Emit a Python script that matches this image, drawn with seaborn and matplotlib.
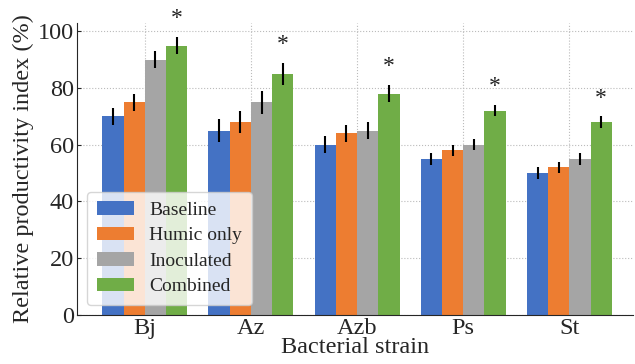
import numpy as np
import pandas as pd
import matplotlib
matplotlib.use("Agg")
import matplotlib.pyplot as plt
import seaborn as sns

strains = ["Bj", "Az", "Azb", "Ps", "St"]
treatments = ["Baseline", "Humic only", "Inoculated", "Combined"]
baseline = [70, 65, 60, 55, 50]
humic = [75, 68, 64, 58, 52]
inoculated = [90, 75, 65, 60, 55]
combined = [95, 85, 78, 72, 68]
err_baseline = [3, 4, 3, 2, 2]
err_humic = [3, 4, 3, 2, 2]
err_inoculated = [3, 4, 3, 2, 2]
err_combined = [3, 4, 3, 2, 2]
colors = ["#4472C4", "#ED7D31", "#A5A5A5", "#70AD47"]

vals = [baseline, humic, inoculated, combined]
errs = [err_baseline, err_humic, err_inoculated, err_combined]
rows = []
for t, v in zip(treatments, vals):
    for s, x in zip(strains, v):
        rows.append({"strain": s, "treatment": t, "value": x})
df = pd.DataFrame(rows)

sns.set_style("ticks")
plt.rcParams["font.family"] = ["Liberation Serif", "DejaVu Serif"]

fig = plt.figure(figsize=(6.35, 3.64), dpi=100)
ax = fig.add_axes([0.121, 0.135, 0.876, 0.802])

sns.barplot(data=df, x="strain", y="value", hue="treatment", palette=colors,
            width=0.8, errorbar=None, saturation=1, linewidth=0, ax=ax, zorder=2)

# error bars from the bar patches
for cont, e in zip(ax.containers, errs):
    xs = [p.get_x() + p.get_width() / 2 for p in cont.patches]
    hs = [p.get_height() for p in cont.patches]
    ax.errorbar(xs, hs, yerr=e, fmt="none", ecolor="black", elinewidth=1.5,
                capsize=0, zorder=3)

# stars above the combined bars
comb = ax.containers[3]
for p, e in zip(comb.patches, err_combined):
    ax.text(p.get_x() + p.get_width() / 2, p.get_height() + e + 6.5, "*",
            ha="center", va="center", fontsize=17, color="#222222", clip_on=False)

ax.set_ylim(0, 103)
ax.set_xlim(-0.64, 4.6)
ax.set_yticks([0, 20, 40, 60, 80, 100])
ax.grid(True, linestyle=":", color="#bbbbbb", linewidth=0.8, zorder=0)
ax.set_axisbelow(True)
sns.despine(ax=ax)
ax.tick_params(direction="in", labelsize=17.5, length=3, pad=2)
ax.set_xlabel("Bacterial strain", fontsize=17.5, labelpad=-1)
ax.set_ylabel("Relative productivity index (%)", fontsize=17.5, labelpad=3)

leg = ax.legend(loc="lower left", bbox_to_anchor=(0.018, 0.034), borderaxespad=0,
                fontsize=14, frameon=True, framealpha=0.8, edgecolor="#cccccc",
                handlelength=1.9, handleheight=0.7, labelspacing=0.4,
                borderpad=0.5, handletextpad=0.8)
leg.set_title(None)

fig.savefig("out.png", dpi=100)
